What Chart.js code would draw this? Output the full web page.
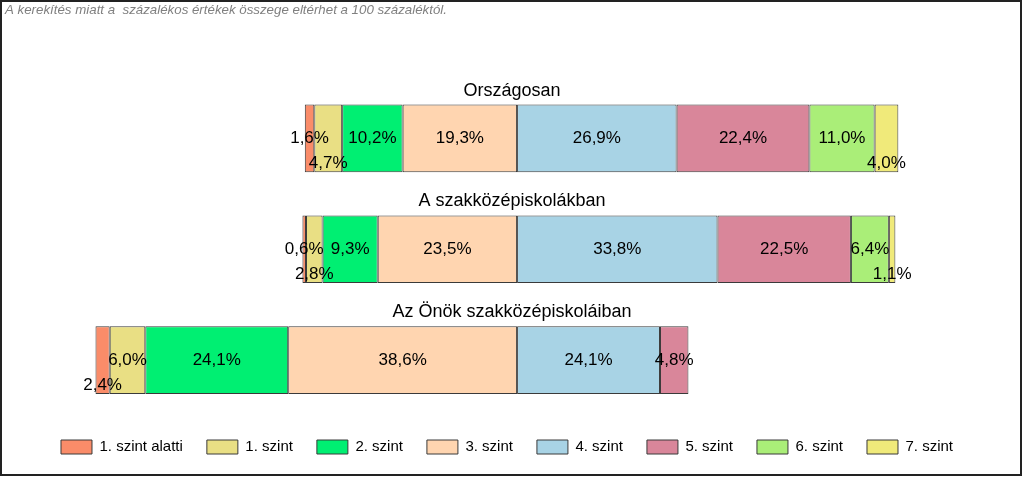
<!DOCTYPE html>
<html>
<head>
<meta charset="utf-8">
<script src="https://cdn.jsdelivr.net/npm/chart.js@4"></script>
<style>
  html, body { margin: 0; padding: 0; background: #fff; }
  #wrap { width: 1024px; height: 478px; position: relative; }
</style>
</head>
<body>
<div id="wrap"><canvas id="chart" width="1024" height="478"></canvas></div>
<script>
const caption = 'A kerekítés miatt a  százalékos értékek összege eltérhet a 100 százaléktól.';
const categories = ['Országosan', 'A szakközépiskolákban', 'Az Önök szakközépiskoláiban'];
const levels = ['1. szint alatti', '1. szint', '2. szint', '3. szint', '4. szint', '5. szint', '6. szint', '7. szint'];

// percentages per level, one value per category
const below1 = [1.6, 0.6, 2.4];
const level1 = [4.7, 2.8, 6.0];
const level2 = [10.2, 9.3, 24.1];
const level3 = [19.3, 23.5, 38.6];
const level4 = [26.9, 33.8, 24.1];
const level5 = [22.4, 22.5, 4.8];
const level6 = [11.0, 6.4, null];
const level7 = [4.0, 1.1, null];

const series = [below1, level1, level2, level3, level4, level5, level6, level7];
const colors = ['#FA8C69', '#E9DF84', '#00EF72', '#FFD5B0', '#A8D3E5', '#D9869A', '#AAEE78', '#F0EA7A'];
const leftCount = 4; // levels below 4. szint go to the left of zero

// labels that sit lower in the bar so small neighbours do not collide
const lowered = { 0: [2], 1: [0, 1], 7: [0, 1] };

// build floating [start, end] pairs, levels 0..3 to the left, 4..7 to the right
function buildRanges() {
  return series.map((vals, li) => vals.map((v, ci) => {
    if (v === null) return null;
    if (li < leftCount) {
      let end = 0;
      for (let k = li + 1; k < leftCount; k++) end -= series[k][ci] || 0;
      return [end - v, end];
    }
    let start = 0;
    for (let k = leftCount; k < li; k++) start += series[k][ci] || 0;
    return [start, start + v];
  }));
}

const ranges = buildRanges();

const fmt = v => v.toFixed(1).replace('.', ',') + '%';

const extras = {
  id: 'extras',
  afterDatasetsDraw(chart) {
    const ctx = chart.ctx;
    const yScale = chart.scales.y;
    ctx.save();
    // value labels
    ctx.font = '17px "Liberation Sans", Arial, sans-serif';
    ctx.fillStyle = '#000';
    ctx.textAlign = 'center';
    ctx.textBaseline = 'middle';
    chart.data.datasets.forEach((ds, di) => {
      const meta = chart.getDatasetMeta(di);
      meta.data.forEach((el, ci) => {
        const v = series[di][ci];
        if (v === null) return;
        const cx = (el.x + el.base) / 2;
        let cy = el.y;
        if (lowered[di] && lowered[di].includes(ci)) cy += 25;
        ctx.fillText(fmt(v), cx, cy);
      });
    });
    // category titles above each bar
    ctx.font = '18px "Liberation Sans", Arial, sans-serif';
    categories.forEach((c, i) => {
      const el = chart.getDatasetMeta(0).data[i];
      const top = yScale.getPixelForValue(i) - el.height / 2;
      ctx.fillText(c, chart.width / 2, top - 14);
    });
    ctx.restore();
  },
  afterDraw(chart) {
    const ctx = chart.ctx;
    ctx.save();
    ctx.font = 'italic 13.3px "Liberation Sans", Arial, sans-serif';
    ctx.fillStyle = '#808080';
    ctx.textAlign = 'left';
    ctx.textBaseline = 'middle';
    ctx.fillText(caption, 5, 10);
    ctx.strokeStyle = '#222';
    ctx.lineWidth = 2;
    ctx.strokeRect(1, 1, 1020, 474);
    ctx.restore();
  }
};

new Chart(document.getElementById('chart'), {
  type: 'bar',
  data: {
    labels: categories,
    datasets: levels.map((name, i) => ({
      label: name,
      data: ranges[i],
      backgroundColor: colors[i],
      borderColor: '#3a3a3a',
      borderWidth: 1,
      borderSkipped: false,
      barPercentage: 0.61,
      categoryPercentage: 1
    }))
  },
  options: {
    indexAxis: 'y',
    responsive: false,
    animation: false,
    layout: {
      padding: { left: 19, right: 29, top: 83, bottom: 13.5 }
    },
    scales: {
      x: { display: false, min: -84, max: 80.6, stacked: false },
      y: { display: false, stacked: true }
    },
    plugins: {
      tooltip: { enabled: false },
      legend: {
        position: 'bottom',
        labels: {
          boxWidth: 31,
          boxHeight: 14,
          padding: 24,
          color: '#000',
          font: { family: '"Liberation Sans", Arial, sans-serif', size: 15 }
        }
      }
    }
  },
  plugins: [extras]
});
</script>
</body>
</html>
